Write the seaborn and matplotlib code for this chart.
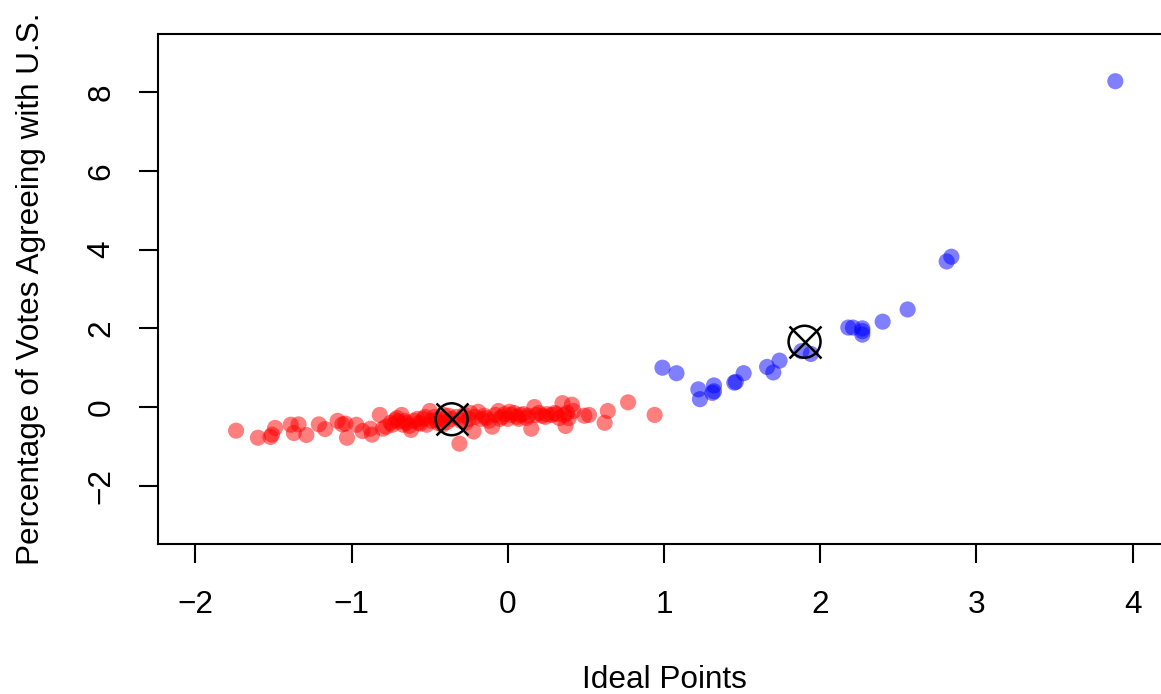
import numpy as np
import pandas as pd
import matplotlib
matplotlib.use("Agg")
import matplotlib.pyplot as plt
import seaborn as sns

# ideal points (x) vs standardized agreement with U.S. (y)
red_x = [-1.74, -1.60, -1.52, -1.51, -1.49, -1.39, -1.34, -1.37, -1.29, -1.21,
         -1.17, -1.09, -1.06, -1.04, -1.03, -0.97, -0.93, -0.88, -0.87, -0.82,
         -0.80, -0.78, -0.75, -0.72, -0.70, -0.68, -0.67, -0.65, -0.62, -0.60,
         -0.58, -0.56, -0.54, -0.52, -0.50, -0.49, -0.47, -0.45, -0.43, -0.41,
         -0.39, -0.36, -0.33, -0.31, -0.30, -0.28, -0.25, -0.22, -0.21, -0.19,
         -0.17, -0.15, -0.12, -0.10, -0.08, -0.06, -0.04, -0.02, 0.00, 0.02,
         0.04, 0.06, 0.08, 0.10, 0.12, 0.15, 0.17, 0.18, 0.20, 0.22,
         0.25, 0.28, 0.30, 0.33, 0.35, 0.36, 0.37, 0.38, 0.41, 0.42,
         0.49, 0.52, 0.62, 0.64, 0.77, 0.94,
         -0.74, -0.71, -0.66, -0.63, -0.57, -0.53, -0.46, -0.42, -0.38, -0.27,
         -0.24, -0.14, -0.05, 0.01, 0.07, 0.13, 0.24, 0.31, 0.39]
red_y = [-0.60, -0.78, -0.76, -0.70, -0.53, -0.45, -0.44, -0.66, -0.71, -0.44,
         -0.56, -0.35, -0.44, -0.42, -0.78, -0.45, -0.61, -0.55, -0.70, -0.20,
         -0.55, -0.50, -0.40, -0.33, -0.37, -0.20, -0.45, -0.40, -0.58, -0.35,
         -0.30, -0.42, -0.30, -0.45, -0.10, -0.35, -0.25, -0.40, -0.30, -0.20,
         -0.38, -0.30, -0.25, -0.93, -0.35, -0.20, -0.30, -0.62, -0.25, -0.12,
         -0.30, -0.22, -0.35, -0.50, -0.20, -0.10, -0.25, -0.18, -0.30, -0.20,
         -0.15, -0.25, -0.20, -0.18, -0.28, -0.55, 0.00, -0.20, -0.15, -0.22,
         -0.18, -0.20, -0.15, -0.28, 0.10, -0.20, -0.48, -0.15, 0.06, -0.10,
         -0.22, -0.20, -0.40, -0.10, 0.12, -0.20,
         -0.45, -0.28, -0.35, -0.48, -0.40, -0.25, -0.33, -0.45, -0.22, -0.40,
         -0.15, -0.28, -0.30, -0.12, -0.30, -0.22, -0.25, -0.18, -0.28]
blue_x = [0.99, 1.08, 1.22, 1.23, 1.32, 1.32, 1.31, 1.45, 1.46, 1.51,
          1.66, 1.70, 1.74, 1.88, 1.94, 2.18, 2.21, 2.27, 2.27, 2.27,
          2.40, 2.56, 2.81, 2.84, 3.89]
blue_y = [1.00, 0.86, 0.45, 0.20, 0.55, 0.40, 0.36, 0.62, 0.64, 0.86,
          1.02, 0.88, 1.18, 1.42, 1.35, 2.02, 2.02, 2.00, 1.93, 1.84,
          2.17, 2.48, 3.70, 3.82, 8.28]

center_x = [-0.36, 1.90]
center_y = [-0.31, 1.66]

x_ticks = [-2, -1, 0, 1, 2, 3, 4]
y_ticks = [-2, 0, 2, 4, 6, 8]

df = pd.DataFrame({
    "x": red_x + blue_x,
    "y": red_y + blue_y,
    "group": ["red"] * len(red_x) + ["blue"] * len(blue_x),
})

plt.rcParams["font.family"] = ["Liberation Sans", "DejaVu Sans"]
plt.rcParams["font.size"] = 22.7

W, H = 1161, 694
fig = plt.figure(figsize=(W / 100, H / 100), dpi=100)
ax = fig.add_axes([158 / W, (H - 544) / H, 1012 / W, 510 / H])

sns.scatterplot(data=df, x="x", y="y", hue="group",
                palette={"red": (1, 0, 0), "blue": (0, 0, 1)},
                alpha=0.5, s=135, linewidth=0, legend=False, ax=ax)

# circle-with-cross markers
ax.scatter(center_x, center_y, s=23 ** 2, facecolors="none",
           edgecolors="black", linewidths=1.8, zorder=5)
ax.scatter(center_x, center_y, s=23 ** 2, marker="x",
           color="black", linewidths=1.8, zorder=5)

ax.set_xlim(-2.24, 4.24)
ax.set_ylim(-3.48, 9.48)
ax.set_xticks(x_ticks)
ax.set_yticks(y_ticks)
ax.set_xticklabels([f"{t}".replace("-", "\u2212") for t in x_ticks])
ax.set_yticklabels([f"{t}".replace("-", "\u2212") for t in y_ticks],
                   rotation=90, va="center")

for sp in ax.spines.values():
    sp.set_linewidth(1.5)
    sp.set_color("black")
ax.tick_params(length=13.7, width=1.5, labelsize=22.7, color="black")
ax.tick_params(axis="x", pad=19.5)
ax.tick_params(axis="y", pad=16)

ax.set_xlabel("Ideal Points", fontsize=22.7, labelpad=32)
ax.set_ylabel("Percentage of Votes Agreeing with U.S.", fontsize=22.7, labelpad=29)

fig.savefig("out.png", dpi=100)
